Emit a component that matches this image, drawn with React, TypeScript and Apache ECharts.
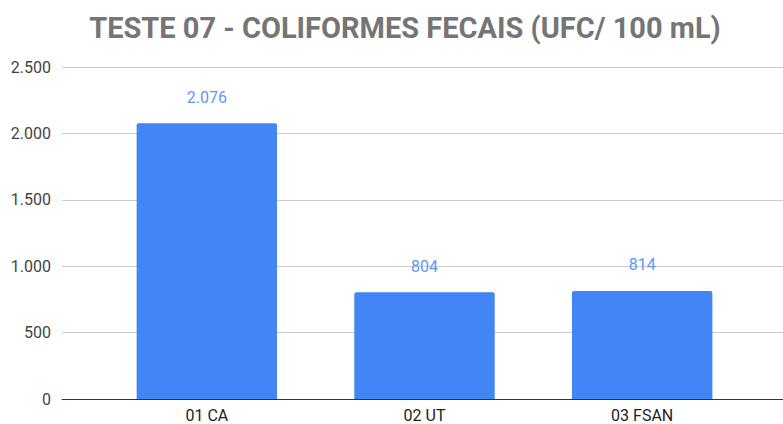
import React, { useEffect, useRef } from "react";
import * as echarts from "echarts";

const titleText = "TESTE 07 - COLIFORMES FECAIS (UFC/ 100 mL)";
const categories = ["01 CA", "02 UT", "03 FSAN"];
const values = [2076, 804, 814];
const yTicks = [0, 500, 1000, 1500, 2000, 2500];

const fmt = (v: number) => String(Math.round(v)).replace(/\B(?=(\d{3})+(?!\d))/g, ".");

export default function App() {
  const ref = useRef<HTMLDivElement>(null);
  useEffect(() => {
    if (!ref.current) return;
    const chart = echarts.init(ref.current, undefined, { renderer: "svg" });
    const yMax = yTicks[yTicks.length - 1];
    const step = yTicks[1] - yTicks[0];
    chart.setOption({
      animation: false,
      backgroundColor: "#ffffff",
      title: {
        text: titleText,
        left: 400,
        textAlign: "center",
        top: 8,
        textStyle: { fontFamily: "Roboto", fontWeight: "bold", fontSize: 29, color: "#757575" },
      },
      grid: [
        { left: 62, right: 0, top: 67, bottom: 25, containLabel: false },
        { left: 98, right: 32, top: 67, bottom: 25, containLabel: false },
      ],
      xAxis: [
        {
          gridIndex: 0,
          type: "category",
          data: [""],
          axisLine: { show: true, lineStyle: { color: "#333333", width: 1 } },
          axisTick: { show: false },
          axisLabel: { show: false },
          splitLine: { show: false },
        },
        {
          gridIndex: 1,
          type: "category",
          data: categories,
          axisLine: { show: false },
          axisTick: { show: false },
          axisLabel: { color: "#222222", fontFamily: "Roboto", fontSize: 16, margin: 8 },
        },
      ],
      yAxis: [
        {
          gridIndex: 0,
          type: "value",
          min: 0,
          max: yMax,
          interval: step,
          axisLine: { show: false },
          axisTick: { show: false },
          axisLabel: { color: "#444444", fontFamily: "Roboto", fontSize: 16, margin: 11, formatter: (v: number) => fmt(v) },
          splitLine: { lineStyle: { color: "#cccccc", width: 1 } },
        },
        {
          gridIndex: 1,
          type: "value",
          min: 0,
          max: yMax,
          interval: step,
          show: false,
          splitLine: { show: false },
        },
      ],
      series: [
        {
          type: "bar",
          xAxisIndex: 1,
          yAxisIndex: 1,
          data: values,
          barWidth: "64.5%",
          itemStyle: { color: "#4285F4", borderRadius: [2, 2, 0, 0] },
          label: {
            show: true,
            position: "top",
            distance: 18,
            color: "#5E97F6",
            fontFamily: "Roboto",
            fontSize: 16,
            formatter: (p: any) => fmt(p.value),
          },
        },
      ],
    });
    return () => chart.dispose();
  }, []);
  return <div ref={ref} style={{ width: 783, height: 424, position: "absolute", left: 0, top: 0 }} />;
}
